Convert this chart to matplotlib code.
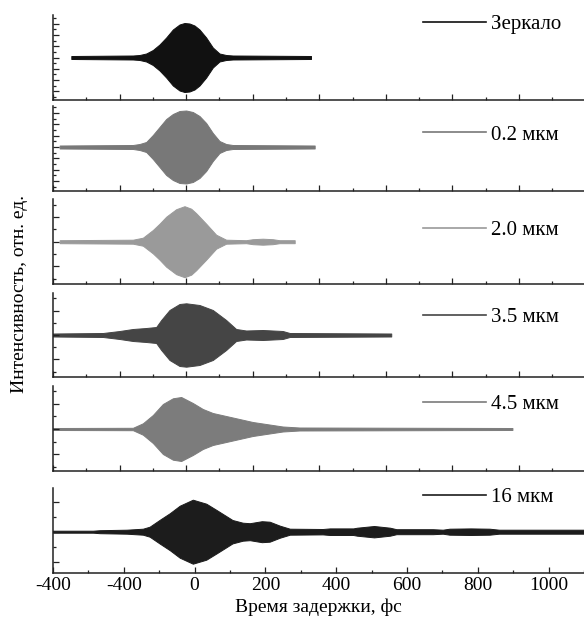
import matplotlib
matplotlib.use("Agg")
import matplotlib.pyplot as plt
from matplotlib.ticker import MultipleLocator

plt.rcParams['font.family'] = ['Liberation Serif', 'DejaVu Serif']

# envelope of each interferogram (delay in fs, half-amplitude in rel. units)
mirror_t = [-345, -160, -140, -120, -100, -80, -60, -40, -20, -5, 10, 25, 40, 60, 80, 100, 120, 140, 375]
mirror_a = [1.5, 2, 2.5, 4, 7.5, 13, 20, 28, 33, 34.5, 34, 32, 28, 20, 10, 4, 2.5, 2, 1.5]

m02_t = [-380, -160, -140, -120, -100, -80, -60, -40, -20, 0, 20, 40, 60, 80, 100, 120, 140, 386]
m02_a = [1.5, 2, 3, 5, 12, 20, 28, 33, 36, 36.5, 35, 31, 24, 14, 6, 3, 2, 1.5]

m20_t = [-380, -160, -130, -100, -80, -60, -30, -5, 15, 30, 60, 90, 120, 180, 200, 230, 260, 280, 326]
m20_a = [1.5, 2, 4, 11.7, 18, 25, 32.5, 35.5, 33, 28.5, 18, 7, 2, 1.5, 2.5, 3, 2.5, 1.5, 1.5]

m35_t = [-400, -250, -200, -160, -120, -90, -75, -50, -20, 0, 40, 80, 120, 150, 180, 230, 290, 311, 616]
m35_a = [1.5, 2, 4, 6, 7, 8, 15, 25, 31, 31.7, 30, 25, 15, 6, 4.5, 5, 4, 2, 1.5]

m45_t = [-400, -160, -130, -100, -70, -40, -15, 20, 50, 80, 120, 160, 200, 240, 290, 340, 980]
m45_a = [1, 1.2, 5.7, 14, 25, 30.7, 32, 26, 20, 16, 13, 10, 7, 5, 2.5, 1.5, 1]

m16_t = [-400, -287, -268, -192, -146, -127, -98, -70, -42, -5, 33, 62, 107, 136, 156, 190,
         212, 241, 269, 362, 382, 448, 459, 507, 552, 570, 673, 701, 720, 780, 833, 860, 1100]
m16_a = [1, 1, 1.5, 2, 3, 5, 12, 18.5, 26, 32, 28, 21.7, 11.7, 9, 8.5, 10.5,
         10, 6, 3, 2.7, 3.3, 3.3, 4, 5.7, 4, 2.5, 2.5, 2, 3, 3.3, 3, 2, 2]

series = [
    (mirror_t, mirror_a, "Зеркало"),
    (m02_t, m02_a, "0.2 мкм"),
    (m20_t, m20_a, "2.0 мкм"),
    (m35_t, m35_a, "3.5 мкм"),
    (m45_t, m45_a, "4.5 мкм"),
    (m16_t, m16_a, "16 мкм"),
]
colors = ["#111111", "#787878", "#9a9a9a", "#454545", "#7c7c7c", "#1c1c1c"]

xtick_labels = ["-400", "-400", "0", "200", "400", "600", "800", "1000"]

W, H = 584, 623
fig = plt.figure(figsize=(W / 100, H / 100), dpi=100)

# pixel layout: (top, bottom) of each panel, y limits, tick step, legend y
panels_px = [(15, 100), (106, 191), (199, 284), (293, 377), (386, 471), (488, 573)]
ylims = [(-42.5, 42.5), (-44, 41), (-42.3, 42.7), (-42, 42), (-42, 43), (-41.3, 43.7)]
ysteps = [5.65, 5.65, 12.3, 12.2, 12.7, 15]
leg_y = [0.894, 0.659, 0.627, 0.714, 0.788, 0.894]
left, right = 53, 584

for i, ((t, a, name), (top, bot)) in enumerate(zip(series, panels_px)):
    ax = fig.add_axes([left / W, 1 - bot / H, (right - left) / W, (bot - top) / H])
    neg = [-v for v in a]
    ax.fill_between(t, neg, a, color=colors[i], linewidth=0.7, label=name)
    ax.set_ylim(*ylims[i])
    last = i == len(series) - 1
    ax.set_xlim(-400, 1100 if last else 1195)

    for s in ["top", "right"]:
        ax.spines[s].set_visible(False)
    for s in ["left", "bottom"]:
        ax.spines[s].set_linewidth(1.1)
        ax.spines[s].set_color("#222222")

    ax.xaxis.set_major_locator(MultipleLocator(200))
    ax.xaxis.set_minor_locator(MultipleLocator(100))
    ax.yaxis.set_major_locator(MultipleLocator(ysteps[i] * 2))
    ax.yaxis.set_minor_locator(MultipleLocator(ysteps[i]))
    ax.tick_params(which="both", direction="in", color="#222222", width=0.9)
    ax.tick_params(which="major", length=4)
    ax.tick_params(which="minor", length=2)
    ax.tick_params(axis="y", labelleft=False)
    if last:
        ax.set_xticks([-400, -200, 0, 200, 400, 600, 800, 1000])
        ax.set_xticklabels(xtick_labels, fontsize=14)
        ax.tick_params(axis="x", pad=3)
    else:
        ax.tick_params(axis="x", labelbottom=False)

    handle = plt.Line2D([], [], color=colors[i], linewidth=1.2)
    ax.legend([handle], [name], loc="center left",
              bbox_to_anchor=((423 - left) / (right - left), leg_y[i]),
              frameon=False, fontsize=15, handlelength=3.0,
              handletextpad=0.25, borderpad=0, borderaxespad=0)

fig.text((left + right) / 2 / W, 1 - 607 / H, "Время задержки, фс",
         ha="center", va="center", fontsize=14)
fig.text(20 / W, 1 - 294 / H, "Интенсивность, отн. ед.",
         ha="center", va="center", rotation=90, fontsize=14)

fig.savefig("out.png", dpi=100)
